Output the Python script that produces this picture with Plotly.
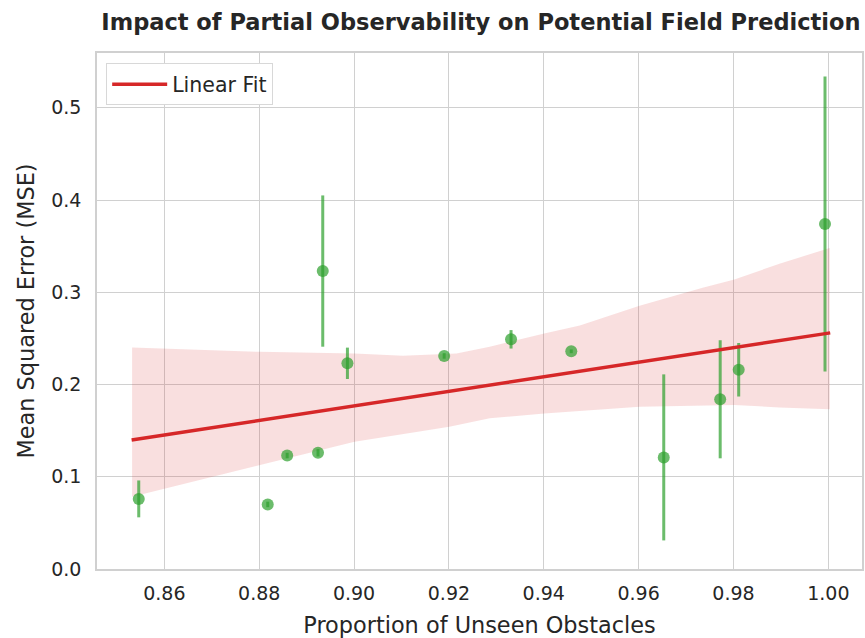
import plotly.graph_objects as go

# Data
prop_unseen = [0.8546, 0.8818, 0.8859, 0.8924, 0.8934, 0.8986, 0.9190,
               0.9331, 0.9458, 0.9653, 0.9772, 0.9811, 0.9993]
mse_mean = [0.076, 0.070, 0.123, 0.126, 0.323, 0.223, 0.231,
            0.249, 0.236, 0.121, 0.184, 0.216, 0.374]
mse_err = [0.020, 0.003, 0.003, 0.004, 0.082, 0.017, 0.003,
           0.010, 0.002, 0.090, 0.064, 0.029, 0.160]

fit_x = [0.8531, 1.0004]
fit_y = [0.1398, 0.2560]

ci_upper_x = [0.8532, 0.8801, 0.9001, 0.9103, 0.9216, 0.9286, 0.9401,
              0.9476, 0.9602, 0.9735, 0.9802, 0.9897, 1.0003]
ci_upper_y = [0.240, 0.2354, 0.2337, 0.2311, 0.2337, 0.241, 0.2553,
              0.264, 0.2853, 0.305, 0.3138, 0.331, 0.348]
ci_lower_x = [0.8532, 0.8801, 0.9001, 0.9201, 0.9286, 0.9401, 0.9602,
              0.9802, 0.9897, 1.0003]
ci_lower_y = [0.0784, 0.1127, 0.138, 0.1542, 0.1633, 0.1687, 0.1759,
              0.1777, 0.1752, 0.1733]

x_ticks = [0.86, 0.88, 0.90, 0.92, 0.94, 0.96, 0.98, 1.00]
x_tick_labels = ["0.86", "0.88", "0.90", "0.92", "0.94", "0.96", "0.98", "1.00"]
y_ticks = [0.0, 0.1, 0.2, 0.3, 0.4, 0.5]
y_tick_labels = ["0.0", "0.1", "0.2", "0.3", "0.4", "0.5"]

FONT = "DejaVu Sans"
TXT = "#262626"
GRID = "#d0d0d0"

fig = go.Figure()

# confidence band
band_x = ci_upper_x + ci_lower_x[::-1]
band_y = ci_upper_y + ci_lower_y[::-1]
fig.add_trace(go.Scatter(
    x=band_x, y=band_y, fill="toself", mode="lines",
    line=dict(width=0), fillcolor="rgba(214,39,40,0.15)",
    showlegend=False, hoverinfo="skip"))

# data points with error bars
fig.add_trace(go.Scatter(
    x=prop_unseen, y=mse_mean, mode="markers",
    marker=dict(size=12, color="rgba(44,160,44,0.7)", line=dict(width=0)),
    error_y=dict(type="data", array=mse_err, visible=True, thickness=3,
                 width=0, color="rgba(44,160,44,0.7)"),
    showlegend=False))

# linear fit
fig.add_trace(go.Scatter(
    x=fit_x, y=fit_y, mode="lines", name="Linear Fit",
    line=dict(color="#d62728", width=3.5)))

axis_common = dict(showgrid=True, gridcolor=GRID, gridwidth=1,
                   showline=True, linecolor=GRID, linewidth=1.5, mirror=True,
                   zeroline=False, ticks="",
                   tickfont=dict(family=FONT, size=19, color=TXT))

fig.update_xaxes(range=[0.8458, 1.0071], tickvals=x_ticks, ticktext=x_tick_labels,
                 title=dict(text="Proportion of Unseen Obstacles",
                            font=dict(family=FONT, size=22.4, color=TXT), standoff=17),
                 ticklabelstandoff=6, **axis_common)
fig.update_yaxes(range=[0.0, 0.5594], tickvals=y_ticks, ticktext=y_tick_labels,
                 title=dict(text="Mean Squared Error (MSE)",
                            font=dict(family=FONT, size=22.4, color=TXT), standoff=10),
                 ticklabelstandoff=10, **axis_common)

fig.update_layout(
    width=865, height=638,
    margin=dict(l=97, r=1, t=53, b=69),
    paper_bgcolor="white", plot_bgcolor="white",
    title=dict(text="<b>Impact of Partial Observability on Potential Field Prediction</b>",
               font=dict(family=FONT, size=22.5, color=TXT),
               x=0.556, xanchor="center", y=0.966, yanchor="middle"),
    legend=dict(x=0.012, y=0.98, xanchor="left", yanchor="top",
                bgcolor="white", bordercolor="#d8d8d8", borderwidth=1,
                itemwidth=55,
                font=dict(family=FONT, size=20.5, color=TXT)),
    font=dict(family=FONT, color=TXT),
)

fig.write_html("out.html")
